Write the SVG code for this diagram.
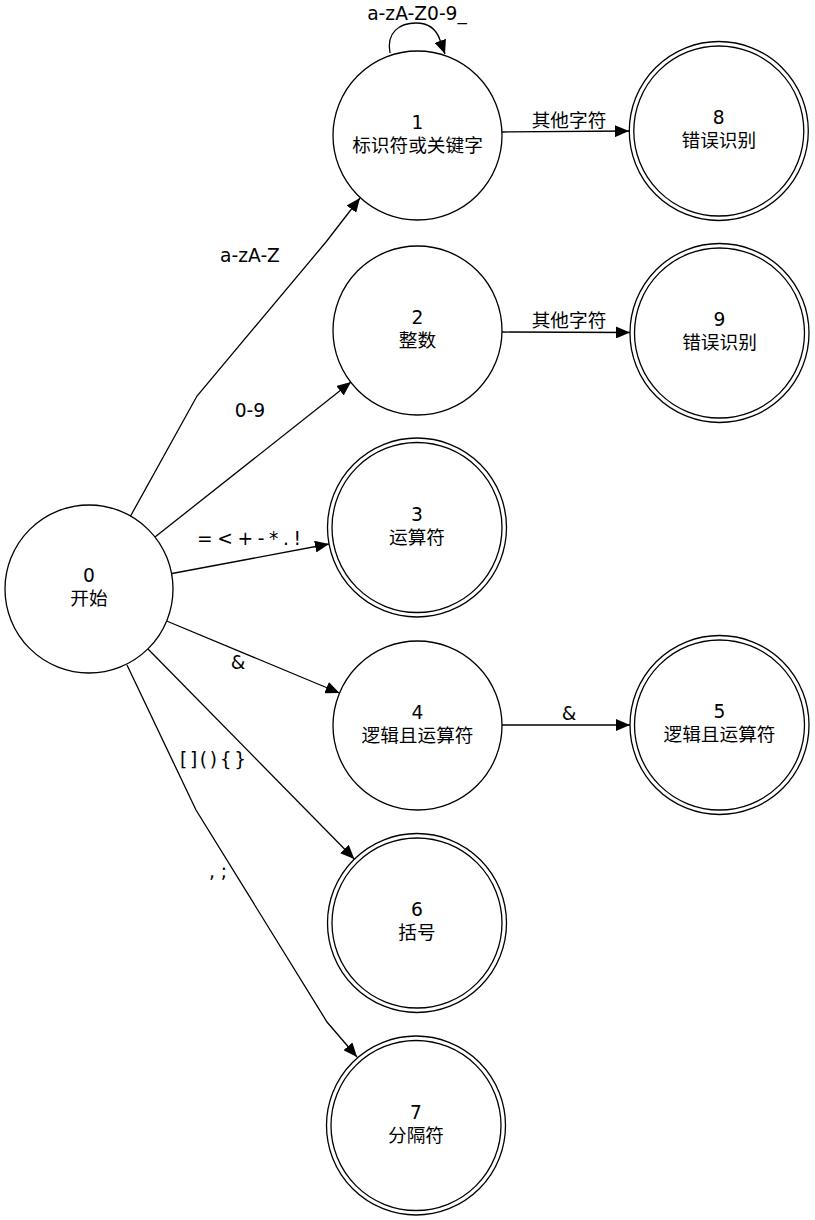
<svg xmlns="http://www.w3.org/2000/svg" width="815" height="1220" viewBox="0 0 815 1220">
<style>
.n{fill:#fff;stroke:#000;stroke-width:1.3}
.e{fill:none;stroke:#000;stroke-width:1.3}
text{font-family:"DejaVu Sans","Noto Sans CJK SC",sans-serif;font-size:18.67px;fill:#000;text-anchor:middle}
.cjk{font-family:"Noto Sans CJK SC","DejaVu Sans",sans-serif}
</style>
<defs>
<marker id="arr" markerUnits="userSpaceOnUse" markerWidth="14" markerHeight="12" refX="14" refY="6" orient="auto">
<path d="M0,0 L14,6 L0,12 z" fill="#000"/>
</marker>
</defs>
<rect width="815" height="1220" fill="#fff"/>
<g id="edges">
<path class="e" marker-end="url(#arr)" d="M130,517 L197,396 L326,242 L360,198"/>
<path class="e" marker-end="url(#arr)" d="M155,537 L351,382"/>
<path class="e" marker-end="url(#arr)" d="M172,573.5 L329,544"/>
<path class="e" marker-end="url(#arr)" d="M166.6,621 L339.5,693"/>
<path class="e" marker-end="url(#arr)" d="M148,649 L354.3,859"/>
<path class="e" marker-end="url(#arr)" d="M127,665 L196,810 L327,1022 L357,1057"/>
<path class="e" marker-end="url(#arr)" d="M502,132 L629,131"/>
<path class="e" marker-end="url(#arr)" d="M502,332 L630,332.5"/>
<path class="e" marker-end="url(#arr)" d="M502,725 L630,725"/>
<path class="e" marker-end="url(#arr)" d="M390,53 C386,32 400,23 416,23 C430,23 437,31 440,40 L445,54"/>
<text x="417" y="20">a-zA-Z0-9_</text>
<text x="250" y="262">a-zA-Z</text>
<text x="250" y="417">0-9</text>
<text x="249" y="545" textLength="104" lengthAdjust="spacing">= &lt; + - * . !</text>
<text x="238" y="669">&amp;</text>
<text x="213" y="766" textLength="66" lengthAdjust="spacing">[ ] ( ) { }</text>
<text x="218" y="878">, ;</text>
<text class="cjk" x="569" y="127">其他字符</text>
<text class="cjk" x="569" y="327">其他字符</text>
<text x="569" y="720">&amp;</text>
</g>
<g id="node0">
<circle class="n" cx="89" cy="589" r="84"/>
<text x="89" y="582">0<tspan class="cjk" x="89" dy="23">开始</tspan></text>
</g>
<g id="node1">
<circle class="n" cx="417.5" cy="135.5" r="84.5"/>
<text x="417.5" y="128.5">1<tspan class="cjk" x="417.5" dy="23">标识符或关键字</tspan></text>
</g>
<g id="node2">
<circle class="n" cx="417.5" cy="330.5" r="84.5"/>
<text x="417.5" y="323.5">2<tspan class="cjk" x="417.5" dy="23">整数</tspan></text>
</g>
<g id="node3">
<circle class="n" cx="417" cy="527.5" r="89.5"/>
<circle class="n" cx="417" cy="527.5" r="85"/>
<text x="417" y="520.5">3<tspan class="cjk" x="417" dy="23">运算符</tspan></text>
</g>
<g id="node4">
<circle class="n" cx="417.5" cy="725.5" r="84.5"/>
<text x="417.5" y="718.5">4<tspan class="cjk" x="417.5" dy="23">逻辑且运算符</tspan></text>
</g>
<g id="node5">
<circle class="n" cx="719.5" cy="725" r="89.5"/>
<circle class="n" cx="719.5" cy="725" r="85"/>
<text x="719.5" y="718">5<tspan class="cjk" x="719.5" dy="23">逻辑且运算符</tspan></text>
</g>
<g id="node6">
<circle class="n" cx="417" cy="923" r="89.5"/>
<circle class="n" cx="417" cy="923" r="85"/>
<text x="417" y="916">6<tspan class="cjk" x="417" dy="23">括号</tspan></text>
</g>
<g id="node7">
<circle class="n" cx="416" cy="1125.5" r="89.5"/>
<circle class="n" cx="416" cy="1125.5" r="85"/>
<text x="416" y="1118.5">7<tspan class="cjk" x="416" dy="23">分隔符</tspan></text>
</g>
<g id="node8">
<circle class="n" cx="718.8" cy="131" r="89.5"/>
<circle class="n" cx="718.8" cy="131" r="85"/>
<text x="718.8" y="124">8<tspan class="cjk" x="718.8" dy="23">错误识别</tspan></text>
</g>
<g id="node9">
<circle class="n" cx="719.5" cy="333" r="89.5"/>
<circle class="n" cx="719.5" cy="333" r="85"/>
<text x="719.5" y="326">9<tspan class="cjk" x="719.5" dy="23">错误识别</tspan></text>
</g>
</svg>
